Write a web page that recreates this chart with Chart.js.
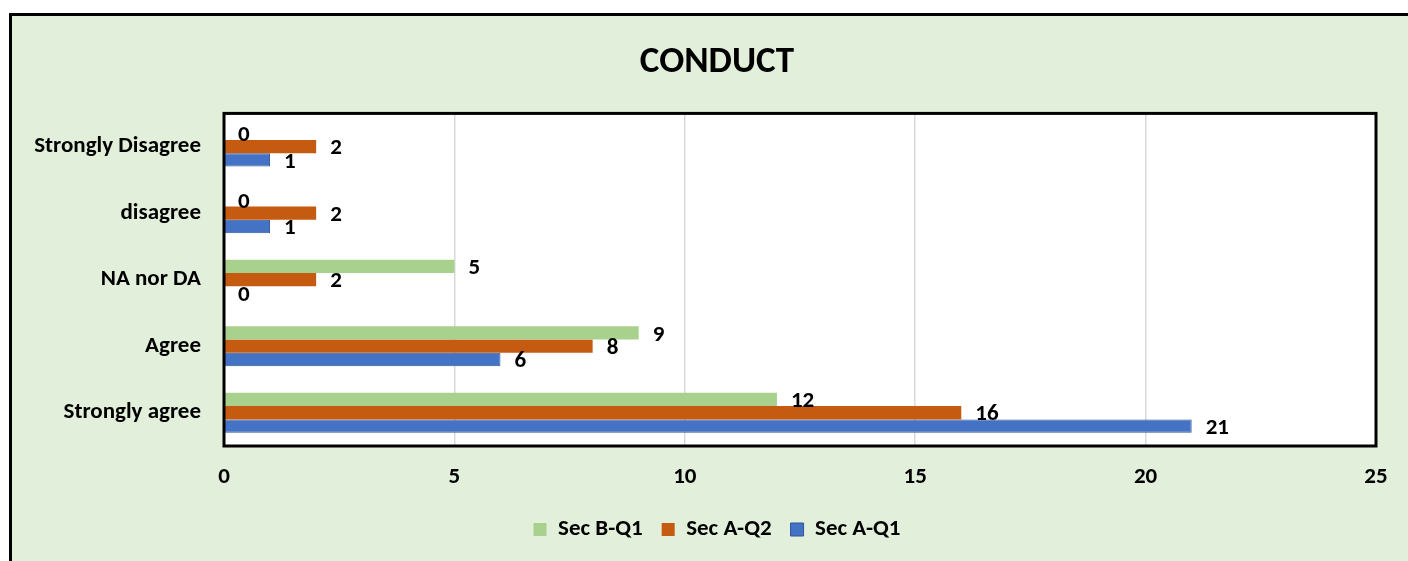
<!DOCTYPE html>
<html>
<head>
<meta charset="utf-8">
<script src="https://cdn.jsdelivr.net/npm/chart.js@4"></script>
<style>
  html, body { margin: 0; padding: 0; background: #fff; }
  #wrap { width: 1408px; height: 561px; }
</style>
</head>
<body>
<div id="wrap"><canvas id="myChart" width="1408" height="561"></canvas></div>
<script>
// categories, top to bottom as in the picture
const labels = ['Strongly Disagree', 'disagree', 'NA nor DA', 'Agree', 'Strongly agree'];
const secBQ1 = [0, 0, 5, 9, 12];
const secAQ2 = [2, 2, 2, 8, 16];
const secAQ1 = [1, 1, 0, 6, 21];
const xTicks = [0, 5, 10, 15, 20, 25];

const FONT = "Calibri, Carlito, Lato, 'Open Sans', sans-serif";

// green page background with the black frame on left and top
const frame = {
  id: 'frame',
  afterLayout(chart) {
    // let the long category labels run left past the padding without being clipped
    chart.scales.y.left = 12;
  },
  beforeDraw(chart) {
    const c = chart.ctx;
    c.save();
    c.fillStyle = '#ffffff';
    c.fillRect(0, 0, chart.width, chart.height);
    c.fillStyle = '#e2efda';
    c.fillRect(10, 14, chart.width - 10, chart.height - 14);
    c.strokeStyle = '#000';
    c.lineWidth = 3;
    c.beginPath();
    c.moveTo(10.5, chart.height);
    c.lineTo(10.5, 14.5);
    c.lineTo(chart.width, 14.5);
    c.stroke();
    const a = chart.chartArea;
    c.fillStyle = '#ffffff';
    c.fillRect(a.left, a.top, a.right - a.left, a.bottom - a.top);
    c.restore();
  },
  afterDraw(chart) {
    const c = chart.ctx, a = chart.chartArea;
    c.save();
    c.strokeStyle = '#000';
    c.lineWidth = 3;
    c.strokeRect(a.left, a.top, a.right - a.left, a.bottom - a.top);
    c.restore();
  }
};

// value labels to the right of each bar
const valueLabels = {
  id: 'valueLabels',
  afterDatasetsDraw(chart) {
    const c = chart.ctx;
    c.save();
    c.font = 'bold 23px ' + FONT;
    c.fillStyle = '#000';
    c.textAlign = 'left';
    c.textBaseline = 'middle';
    chart.data.datasets.forEach((ds, i) => {
      chart.getDatasetMeta(i).data.forEach((bar, j) => {
        c.fillText(String(ds.data[j]), bar.x + 14, bar.y + 2);
      });
    });
    c.restore();
  }
};

new Chart(document.getElementById('myChart'), {
  type: 'bar',
  data: {
    labels: labels,
    datasets: [
      { label: 'Sec B-Q1', data: secBQ1, backgroundColor: '#a9d18e', borderColor: '#a9d18e', borderWidth: 0 },
      { label: 'Sec A-Q2', data: secAQ2, backgroundColor: '#c55a11', borderColor: '#c55a11', borderWidth: 0 },
      { label: 'Sec A-Q1', data: secAQ1, backgroundColor: '#4472c4', borderColor: '#2f5597', borderWidth: 1 }
    ]
  },
  options: {
    indexAxis: 'y',
    responsive: false,
    animation: false,
    devicePixelRatio: 1,
    layout: { padding: { left: 58, right: 32, top: 0, bottom: 10 } },
    datasets: { bar: { categoryPercentage: 0.6, barPercentage: 1 } },
    scales: {
      x: {
        min: 0, max: 25,
        afterBuildTicks(scale) { scale.ticks = xTicks.map(v => ({ value: v })); },
        afterFit(scale) { scale.height = 53; },
        border: { display: false },
        grid: { color: '#d9d9d9', lineWidth: 1.5, drawTicks: false },
        ticks: { padding: 17, color: '#000', font: { family: FONT, size: 23, weight: 'bold' } }
      },
      y: {
        afterFit(scale) { scale.width = 224 - 58; },
        border: { display: false },
        grid: { display: false, drawTicks: false },
        ticks: { padding: 23, color: '#000', font: { family: FONT, size: 23, weight: 'bold' } }
      }
    },
    plugins: {
      title: {
        display: true,
        text: 'CONDUCT',
        color: '#000',
        font: { family: FONT, size: 37, weight: 'bold' },
        padding: { top: 41, bottom: 28 }
      },
      legend: {
        position: 'bottom',
        labels: {
          color: '#000',
          boxWidth: 13,
          boxHeight: 13,
          padding: 19,
          font: { family: FONT, size: 23, weight: 'bold' }
        }
      },
      tooltip: { enabled: false }
    }
  },
  plugins: [frame, valueLabels]
});
</script>
</body>
</html>
